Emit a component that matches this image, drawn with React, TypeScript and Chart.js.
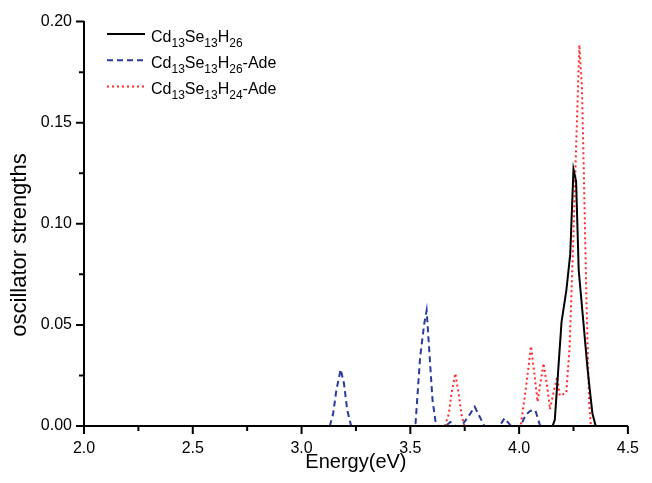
import React, { useEffect, useRef } from "react";
import { Chart, registerables } from "chart.js";

Chart.register(...registerables);

// ---- data (energy in eV, oscillator strength) ----
const blackEnergy = [4.154, 4.164, 4.195, 4.217, 4.235, 4.25, 4.262, 4.274, 4.292, 4.314, 4.325, 4.337, 4.352];
const blackStrength = [0, 0.003, 0.0514, 0.067, 0.085, 0.127, 0.121, 0.077, 0.0555, 0.029, 0.0177, 0.0062, 0];

const blueEnergy = [3.13, 3.145, 3.16, 3.18, 3.195, 3.21, 3.228, 3.28, 3.51, 3.524, 3.545, 3.564, 3.575, 3.587, 3.602, 3.617, 3.629, 3.662, 3.684, 3.707, 3.735, 3.775, 3.796, 3.819, 3.84, 3.91, 3.933, 3.963, 4.007, 4.03, 4.052, 4.075, 4.097];
const blueStrength = [0, 0.006, 0.0177, 0.028, 0.021, 0.0079, 0, 0, 0, 0.0013, 0.034, 0.0506, 0.0571, 0.0374, 0.0128, 0.0013, 0, 0, 0.002, 0, 0, 0.006, 0.0095, 0.0046, 0, 0, 0.0038, 0, 0, 0.0054, 0.0076, 0.0076, 0];

const redEnergy = [3.659, 3.677, 3.689, 3.707, 3.722, 3.737, 3.749, 4.007, 4.03, 4.055, 4.07, 4.085, 4.112, 4.13, 4.142, 4.157, 4.175, 4.187, 4.217, 4.232, 4.247, 4.262, 4.277, 4.289, 4.299, 4.31, 4.322, 4.33];
const redStrength = [0, 0.006, 0.016, 0.026, 0.016, 0.0046, 0, 0, 0.0177, 0.0394, 0.026, 0.012, 0.031, 0.019, 0.0082, 0.016, 0.0243, 0.015, 0.0164, 0.039, 0.085, 0.1376, 0.1885, 0.167, 0.118, 0.06, 0.011, 0];

// legend labels: [text, isSubscript]
const legendBlack: [string, boolean][] = [["Cd", false], ["13", true], ["Se", false], ["13", true], ["H", false], ["26", true]];
const legendBlue: [string, boolean][] = [["Cd", false], ["13", true], ["Se", false], ["13", true], ["H", false], ["26", true], ["-Ade", false]];
const legendRed: [string, boolean][] = [["Cd", false], ["13", true], ["Se", false], ["13", true], ["H", false], ["24", true], ["-Ade", false]];

const xTitle = "Energy(eV)";
const yTitle = "oscillator strengths";

const xMin = 2.0;
const xMax = 4.5;
const xStep = 0.5;
const yMin = 0;
const yMax = 0.2;
const yStep = 0.05;

const FONT = "'Liberation Sans', Arial, Helvetica, sans-serif";
const BLUE = "#2a3a9c";
const RED = "#ff2a2a";

const toPoints = (xs: number[], ys: number[]) => xs.map((x, i) => ({ x, y: ys[i] }));

const tickPlugin = {
  id: "minorMajorTicks",
  afterDraw(chart: any) {
    const ctx = chart.ctx;
    const xs = chart.scales.x;
    const ys = chart.scales.y;
    const area = chart.chartArea;
    ctx.save();
    ctx.strokeStyle = "#000";
    ctx.lineWidth = 2;
    ctx.beginPath();
    const xv = xs.ticks.map((t: any) => t.value);
    xv.forEach((v: number, i: number) => {
      const px = xs.getPixelForValue(v);
      ctx.moveTo(px, area.bottom);
      ctx.lineTo(px, area.bottom + 8);
      if (i < xv.length - 1) {
        const m = xs.getPixelForValue((v + xv[i + 1]) / 2);
        ctx.moveTo(m, area.bottom);
        ctx.lineTo(m, area.bottom + 5);
      }
    });
    const yv = ys.ticks.map((t: any) => t.value);
    yv.forEach((v: number, i: number) => {
      const py = ys.getPixelForValue(v);
      ctx.moveTo(area.left, py);
      ctx.lineTo(area.left - 8, py);
      if (i < yv.length - 1) {
        const m = ys.getPixelForValue((v + yv[i + 1]) / 2);
        ctx.moveTo(area.left, m);
        ctx.lineTo(area.left - 5, m);
      }
    });
    ctx.stroke();
    ctx.restore();
  },
};

const yTitlePlugin = {
  id: "yTitle",
  afterDraw(chart: any) {
    const ctx = chart.ctx;
    ctx.save();
    ctx.translate(20, 245);
    ctx.rotate(-Math.PI / 2);
    ctx.font = `22px ${FONT}`;
    ctx.fillStyle = "#000";
    ctx.textAlign = "center";
    ctx.textBaseline = "middle";
    ctx.fillText(yTitle, 0, 0);
    ctx.restore();
  },
};

const legendPlugin = {
  id: "richLegend",
  afterDraw(chart: any) {
    const ctx = chart.ctx;
    const rows: { parts: [string, boolean][]; ds: any }[] = [
      { parts: legendBlack, ds: chart.data.datasets[0] },
      { parts: legendBlue, ds: chart.data.datasets[1] },
      { parts: legendRed, ds: chart.data.datasets[2] },
    ];
    const lineX0 = 107;
    const lineX1 = 145;
    const textX = 151;
    const y0 = 34;
    const dy = 26.3;
    ctx.save();
    rows.forEach((r, i) => {
      const y = y0 + i * dy;
      ctx.strokeStyle = r.ds.borderColor;
      ctx.lineWidth = r.ds.borderWidth;
      ctx.setLineDash(r.ds.borderDash || []);
      ctx.beginPath();
      ctx.moveTo(lineX0, y);
      ctx.lineTo(lineX1, y);
      ctx.stroke();
      ctx.setLineDash([]);
      let x = textX;
      const base = y + 7.5;
      ctx.fillStyle = "#000";
      ctx.textBaseline = "alphabetic";
      ctx.textAlign = "left";
      r.parts.forEach(([t, sub]) => {
        ctx.font = sub ? `12px ${FONT}` : `16px ${FONT}`;
        ctx.fillText(t, x, sub ? base + 5 : base);
        x += ctx.measureText(t).width;
      });
    });
    ctx.restore();
  },
};

export default function App() {
  const ref = useRef<HTMLCanvasElement | null>(null);

  useEffect(() => {
    if (!ref.current) return;
    const common = {
      pointRadius: 0,
      tension: 0,
      fill: false,
      borderWidth: 2,
      clip: { left: 0, top: 0, right: 0, bottom: -1 },
    };
    const chart = new Chart(ref.current, {
      type: "line",
      data: {
        datasets: [
          {
            ...common,
            label: "Cd13Se13H26",
            data: toPoints(blackEnergy, blackStrength),
            borderColor: "#000",
          },
          {
            ...common,
            label: "Cd13Se13H26-Ade",
            data: toPoints(blueEnergy, blueStrength),
            borderColor: BLUE,
            borderDash: [6, 4],
          },
          {
            ...common,
            label: "Cd13Se13H24-Ade",
            data: toPoints(redEnergy, redStrength),
            borderColor: RED,
            borderDash: [2, 3],
          },
        ],
      },
      options: {
        responsive: false,
        animation: false,
        layout: { padding: { left: 0, right: 12, top: 20, bottom: 0 } },
        plugins: {
          legend: { display: false },
          tooltip: { enabled: false },
        },
        scales: {
          x: {
            type: "linear",
            min: xMin,
            max: xMax,
            z: 1,
            afterFit: (s: any) => {
              s.height = 57;
            },
            ticks: {
              stepSize: xStep,
              color: "#000",
              font: { family: FONT, size: 16 },
              padding: 13,
              maxRotation: 0,
              callback: (v: any) => Number(v).toFixed(1),
            },
            grid: { display: true, drawOnChartArea: false, drawTicks: false },
            border: { display: true, color: "#000", width: 2 },
            title: {
              display: true,
              text: xTitle,
              color: "#000",
              font: { family: FONT, size: 20 },
              padding: { top: 9, bottom: 9 },
            },
          },
          y: {
            type: "linear",
            min: yMin,
            max: yMax,
            z: 1,
            afterFit: (s: any) => {
              s.width = 84;
            },
            ticks: {
              stepSize: yStep,
              color: "#000",
              font: { family: FONT, size: 16 },
              padding: 12,
              callback: (v: any) => Number(v).toFixed(2),
            },
            grid: { display: true, drawOnChartArea: false, drawTicks: false },
            border: { display: true, color: "#000", width: 2 },
            title: { display: false },
          },
        },
      },
      plugins: [tickPlugin, legendPlugin, yTitlePlugin],
    } as any);
    return () => chart.destroy();
  }, []);

  return (
    <div style={{ position: "absolute", left: 0, top: 0, width: 652, height: 483, background: "#fff" }}>
      <canvas ref={ref} width={652} height={483} />
    </div>
  );
}
